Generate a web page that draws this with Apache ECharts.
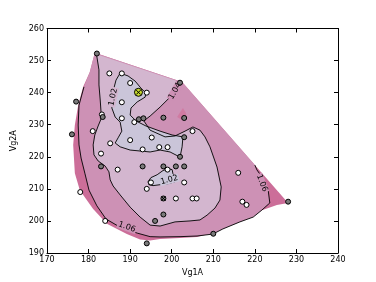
<!DOCTYPE html>
<html><head><meta charset="utf-8">
<script src="https://cdn.jsdelivr.net/npm/echarts@6/dist/echarts.min.js"></script>
<style>html,body{margin:0;padding:0;background:#fff}#c{width:376px;height:282px}</style>
</head><body><div id="c"></div>
<script>
// Axis settings
const xMin = 170, xMax = 240, xStep = 10;
const yMin = 190, yMax = 260, yStep = 10;
const xName = 'Vg1A', yName = 'Vg2A';

// Filled-region outline (extent of interpolated grid), data units
const hull = [[181.5,252.4],[202.5,243.3],[228.0,205.6],[225.3,205.0],[220.5,202.8],[216.4,200.3],[212.3,197.8],[209.9,196.2],[206.1,195.0],[202.0,194.7],[197.2,194.4],[194.8,193.9],[192.4,194.2],[189.2,195.9],[184.4,199.1],[181.1,203.7],[177.9,209.6],[176.7,214.9],[176.3,223.7],[176.7,229.9],[177.5,236.1],[178.7,241.8],[180.3,246.4]];
// contour 1.06 (open line, right edge -> left edge)
const line106 = [[220.0,217.4],[220.5,215.9],[221.7,213.7],[223.2,209.6],[223.6,205.6],[221.7,203.4],[219.6,201.2],[216.4,199.7],[212.3,197.5],[209.9,195.9],[206.1,195.3],[202.0,195.1],[197.2,195.0],[194.8,195.1],[191.7,196.2],[187.1,198.4],[184.2,200.6],[182.0,204.7],[180.1,209.6],[179.1,214.9],[178.2,219.6],[177.7,223.7],[177.5,229.9],[177.7,236.1],[178.9,241.8]];
const topEdge106 = [[180.3,246.4],[181.5,252.4],[202.5,243.3]];
// contour 1.04 (open line, top-left edge -> top-right edge)
const line104 = [[181.9,252.0],[182.5,247.1],[182.5,242.4],[182.8,237.7],[183.0,234.0],[183.2,232.4],[182.3,229.6],[181.5,226.8],[181.1,223.7],[181.3,220.6],[182.3,218.7],[184.0,217.1],[184.9,215.3],[185.2,212.8],[185.9,210.9],[187.6,208.1],[190.0,204.3],[192.4,201.2],[194.8,198.7],[197.2,198.4],[200.8,199.7],[204.4,200.0],[206.8,200.3],[208.5,201.8],[210.4,204.0],[211.6,206.5],[211.9,210.6],[210.9,216.8],[209.2,223.1],[208.0,226.2],[206.8,228.3],[205.1,229.3],[203.2,228.0],[200.8,226.5],[198.4,226.2],[194.8,228.3],[193.3,231.2],[194.8,232.7],[197.2,235.5],[199.6,238.6],[201.3,241.4],[202.0,243.3]];
// contour 1.02 (closed loops)
const loop102a = [[187.6,246.1],[189.5,245.2],[191.2,243.6],[192.6,241.4],[193.8,239.9],[193.6,238.6],[191.7,237.1],[190.2,235.2],[190.0,233.0],[191.4,231.2],[193.8,229.6],[197.2,228.0],[200.1,226.8],[202.7,226.2],[202.5,223.1],[202.0,219.9],[199.6,221.5],[197.2,222.1],[194.8,221.5],[192.4,221.8],[190.0,222.1],[187.6,223.1],[186.4,224.3],[187.1,225.9],[188.0,228.0],[187.6,230.8],[186.4,232.4],[185.6,235.2],[185.9,238.6],[186.1,241.4],[186.6,243.9]];
const loop102b = [[194.3,212.2],[195.0,213.5],[196.5,214.4],[197.9,215.7],[199.1,216.3],[200.1,216.0],[200.3,214.7],[201.0,213.5],[200.8,212.2],[199.1,211.6],[197.2,211.3],[195.5,211.0],[194.5,211.3]];
// local maximum patch (>1.06)
const spot = [[201.3,232.4],[202.7,235.2],[203.4,233.7],[203.7,231.8],[202.5,231.5]];

// contour labels: [x, y, text, angle(deg), band]
const contourLabels = [[185.9,238.6,'1.02',78,'m'],[200.8,240.5,'1.04',60,'p'],[199.4,212.8,'1.02',15,'l'],[189.2,198.1,'1.06',-20,'p'],[221.7,211.8,'1.06',-68,'p']];

// measurement points
const whitePts = [[185,246],[188,246],[190,243],[194,240],[188,237],[183.2,233.2],[188,232],[191,230.8],[181,228],[205,228],[190,225.2],[195.2,226],[185.2,224.2],[197,223],[199,223],[183,221],[193,222.3],[187,216],[199,216],[195,212],[203,212],[194,210],[178,209],[201,207],[205,207],[206,207],[184,200],[216,215],[217,206],[218,205]];
const grayPts = [[182,252.2],[202,243.1],[177,237.2],[183.4,232.4],[192.1,231.7],[193.2,232],[198,232.2],[203,232.1],[176,227],[203,226.1],[202,220],[183,217],[193,217],[198,217],[201,217],[203,217],[198,207],[196,200],[198,202],[194,193],[210,196],[228,206]];
const bestPt = [[192,240.1]];
const crossPts = [[192,240.1],[198,207]];

const C_DEEP = '#cc6e99', C_PINK = '#cd91b5', C_MAUVE = '#d3b6cf', C_LAV = '#cac5d9', C_SPOT = '#d07ba2';
const bandColor = {m:C_MAUVE, p:C_PINK, l:C_LAV};

function poly(points, fill, z) {
  return {type:'custom', silent:true, z:z, data:[points[0]],
    renderItem:(p, api)=>({type:'polygon', shape:{points:points.map(q=>api.coord(q))}, style:{fill:fill, stroke:null}})};
}
function pline(points, z, closed) {
  return {type:'custom', silent:true, z:z, data:[points[0]],
    renderItem:(p, api)=>({type: closed?'polygon':'polyline', shape:{points:points.map(q=>api.coord(q))}, style:{fill:null, stroke:'#000', lineWidth:0.9}})};
}

const fontFam = 'DejaVu Sans';
const axisCommon = {type:'value', splitLine:{show:false},
  axisLine:{show:true, onZero:false, lineStyle:{color:'#000', width:1}},
  axisTick:{show:true, inside:true, length:4, lineStyle:{color:'#000', width:1}}};

const chart = echarts.init(document.getElementById('c'), null, {renderer:'canvas'});
chart.setOption({
  animation:false,
  backgroundColor:'#fff',
  grid:{left:47, right:38, top:28.5, bottom:29, containLabel:false},
  xAxis:[
    Object.assign({}, axisCommon, {min:xMin, max:xMax, interval:xStep, position:'bottom',
      axisLabel:{margin:3, fontSize:8, color:'#000', fontFamily:fontFam},
      name:xName, nameLocation:'middle', nameGap:12, nameTextStyle:{fontSize:8, color:'#000', fontFamily:fontFam}}),
    Object.assign({}, axisCommon, {min:xMin, max:xMax, interval:xStep, position:'top', axisLabel:{show:false}})
  ],
  yAxis:[
    Object.assign({}, axisCommon, {min:yMin, max:yMax, interval:yStep, position:'left',
      axisLabel:{margin:3, fontSize:8, color:'#000', fontFamily:fontFam},
      name:yName, nameLocation:'middle', nameGap:22, nameRotate:90, nameTextStyle:{fontSize:8, color:'#000', fontFamily:fontFam}}),
    Object.assign({}, axisCommon, {min:yMin, max:yMax, interval:yStep, position:'right', axisLabel:{show:false}})
  ],
  series:[
    poly(hull, C_DEEP, 1),
    poly(topEdge106.concat(line106), C_PINK, 2),
    poly(line104, C_MAUVE, 3),
    poly(loop102a, C_LAV, 4),
    poly(loop102b, C_LAV, 4),
    poly(spot, C_SPOT, 4),
    pline(line106, 5, false),
    pline(line104, 5, false),
    pline(loop102a, 5, true),
    pline(loop102b, 5, true),
    {type:'custom', silent:true, z:6, data:contourLabels.map(d=>[d[0], d[1]]),
      renderItem:(p, api)=>{
        const d = contourLabels[p.dataIndex];
        const pt = api.coord([d[0], d[1]]);
        return {type:'text', x:pt[0], y:pt[1], rotation:d[3]*Math.PI/180,
          style:{text:d[2], fontSize:8, fontFamily:fontFam, fill:'#000', align:'center', verticalAlign:'middle',
            backgroundColor:bandColor[d[4]], padding:[0,1]}};
      }},
    {type:'scatter', z:7, data:whitePts, symbol:'circle', symbolSize:5,
      itemStyle:{color:'#fff', borderColor:'#000', borderWidth:1, opacity:1}},
    {type:'scatter', z:7, data:grayPts, symbol:'circle', symbolSize:5,
      itemStyle:{color:'#7a7a7a', borderColor:'#000', borderWidth:1, opacity:1}},
    {type:'scatter', z:8, data:bestPt, symbol:'circle', symbolSize:8,
      itemStyle:{color:'#c6d92c', borderColor:'#000', borderWidth:1, opacity:1}},
    {type:'custom', silent:true, z:9, data:crossPts,
      renderItem:(p, api)=>{
        const c = api.coord([api.value(0), api.value(1)]);
        const r = 2.2;
        return {type:'group', children:[
          {type:'line', shape:{x1:c[0]-r,y1:c[1]-r,x2:c[0]+r,y2:c[1]+r}, style:{stroke:'#000', lineWidth:1}},
          {type:'line', shape:{x1:c[0]-r,y1:c[1]+r,x2:c[0]+r,y2:c[1]-r}, style:{stroke:'#000', lineWidth:1}}
        ]};
      }}
  ]
});
</script></body></html>
